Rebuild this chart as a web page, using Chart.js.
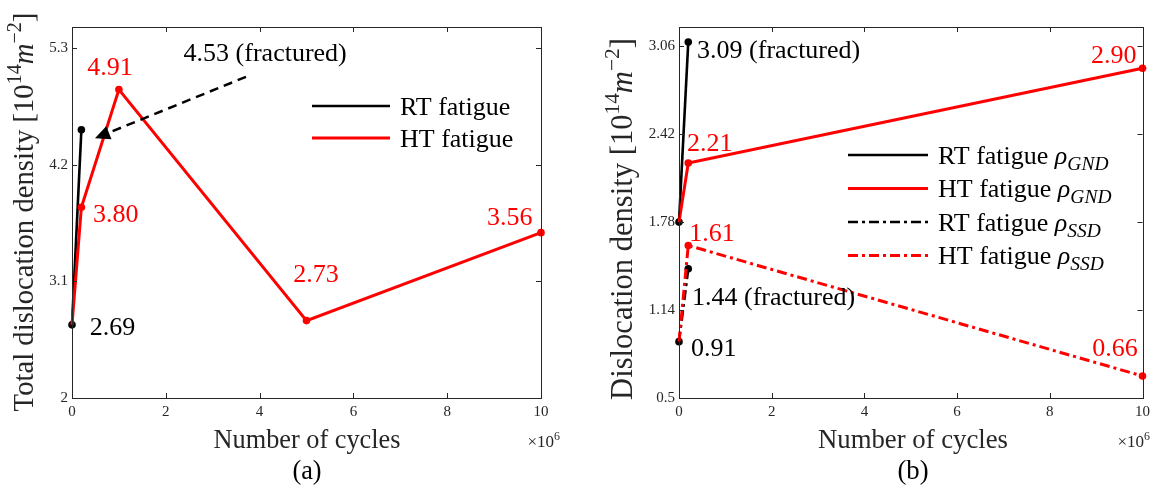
<!DOCTYPE html>
<html>
<head>
<meta charset="utf-8">
<script src="https://cdn.jsdelivr.net/npm/chart.js@4.4.1/dist/chart.umd.min.js"></script>
<style>
  html, body { margin: 0; padding: 0; background: #fff; }
  #wrap { position: relative; width: 1155px; height: 485px; }
  .panel { position: absolute; top: 0; height: 485px; }
</style>
</head>
<body>
<div id="wrap">
  <div class="panel" style="left:0;width:580px"><canvas id="chartA" width="580" height="485"></canvas></div>
  <div class="panel" style="left:580px;width:575px"><canvas id="chartB" width="575" height="485"></canvas></div>
</div>
<script>
// Panel (a): total dislocation density, 10^14 m^-2
const cyclesA_RT = [0, 0.2];
const densA_RT = [2.69, 4.53];
const cyclesA_HT = [0, 0.2, 1, 5, 10];
const densA_HT = [2.69, 3.80, 4.91, 2.73, 3.56];
const yTicksA = [2, 3.1, 4.2, 5.3];

// Panel (b): GND / SSD dislocation density
const cyclesB_RT = [0, 0.2];
const gndB_RT = [1.78, 3.09];
const ssdB_RT = [0.91, 1.44];
const cyclesB_HT = [0, 0.2, 10];
const gndB_HT = [1.78, 2.21, 2.90];
const ssdB_HT = [0.91, 1.61, 0.66];
const yTicksB = [0.5, 1.14, 1.78, 2.42, 3.06];

// x axis: number of cycles (x 10^6)
const xTicks = [0, 2, 4, 6, 8, 10];

const AXIS = '#262626';
const RED = '#ff0000';
const BLACK = '#000000';
const SERIF = '"Liberation Serif", "Times New Roman", serif';
const TXT = 26; // size of value labels and legend text
Chart.defaults.font.family = SERIF;

const pts = (xs, ys) => xs.map((x, i) => ({ x: x, y: ys[i] }));

// rich text helpers (superscript / subscript / italic pieces)
function fnt(size, italic) { return (italic ? 'italic ' : '') + size + 'px ' + SERIF; }
function pieceSize(p, size) { return p.sup ? size * 0.7 : p.sub ? size * 0.75 : size; }
function measureRich(ctx, parts, size) {
  let w = 0;
  for (const p of parts) {
    ctx.font = fnt(pieceSize(p, size), p.it);
    w += ctx.measureText(p.t).width;
  }
  return w;
}
function drawRich(ctx, parts, x, y, size, align, color) {
  const w = measureRich(ctx, parts, size);
  let cx = align === 'left' ? x : align === 'right' ? x - w : x - w / 2;
  const base = y + size * 0.34;
  ctx.fillStyle = color;
  ctx.textAlign = 'left';
  ctx.textBaseline = 'alphabetic';
  for (const p of parts) {
    ctx.font = fnt(pieceSize(p, size), p.it);
    const dy = p.sup ? -size * 0.42 : p.sub ? size * 0.22 : 0;
    ctx.fillText(p.t, cx, base + dy);
    cx += ctx.measureText(p.t).width;
  }
}

const unitParts = [
  { t: '[10' }, { t: '14', sup: true }, { t: 'm', it: true }, { t: '\u22122', sup: true }, { t: ']' }
];
const rho = (sub) => [{ t: '\u03c1', it: true }, { t: sub, it: true, sub: true }];

// box, inward ticks, labels, legend, arrow
function panelPlugin(cfg) {
  return {
    id: 'panel' + cfg.tag,
    afterDatasetsDraw(chart) {
      const { ctx, chartArea: a, scales } = chart;
      const sx = scales.x, sy = scales.y;
      ctx.save();

      // axes box with ticks on all four sides
      ctx.strokeStyle = AXIS;
      ctx.lineWidth = 1;
      ctx.setLineDash([]);
      ctx.strokeRect(Math.round(a.left) + 0.5, Math.round(a.top) + 0.5,
        Math.round(a.right - a.left), Math.round(a.bottom - a.top));
      ctx.beginPath();
      xTicks.forEach(v => {
        const px = Math.round(sx.getPixelForValue(v)) + 0.5;
        ctx.moveTo(px, a.bottom); ctx.lineTo(px, a.bottom - 5);
        ctx.moveTo(px, a.top); ctx.lineTo(px, a.top + 5);
      });
      cfg.yTicks.forEach(v => {
        const py = Math.round(sy.getPixelForValue(v)) + 0.5;
        ctx.moveTo(a.left, py); ctx.lineTo(a.left + 5, py);
        ctx.moveTo(a.right, py); ctx.lineTo(a.right - 5, py);
      });
      ctx.stroke();

      // arrow annotation
      if (cfg.arrow) {
        const x0 = sx.getPixelForValue(cfg.arrow.from[0]), y0 = sy.getPixelForValue(cfg.arrow.from[1]);
        const x1 = sx.getPixelForValue(cfg.arrow.to[0]), y1 = sy.getPixelForValue(cfg.arrow.to[1]);
        const ang = Math.atan2(y1 - y0, x1 - x0);
        const head = 15;
        ctx.strokeStyle = BLACK;
        ctx.lineWidth = 2.5;
        ctx.setLineDash([9, 6]);
        ctx.beginPath();
        ctx.moveTo(x0, y0);
        ctx.lineTo(x1 - head * Math.cos(ang), y1 - head * Math.sin(ang));
        ctx.stroke();
        ctx.setLineDash([]);
        ctx.fillStyle = BLACK;
        ctx.beginPath();
        ctx.moveTo(x1, y1);
        ctx.lineTo(x1 - head * Math.cos(ang) + 7 * Math.sin(ang), y1 - head * Math.sin(ang) - 7 * Math.cos(ang));
        ctx.lineTo(x1 - head * Math.cos(ang) - 7 * Math.sin(ang), y1 - head * Math.sin(ang) + 7 * Math.cos(ang));
        ctx.closePath();
        ctx.fill();
      }

      // value labels
      cfg.notes.forEach(n => {
        const txt = n.v.toFixed(2) + (n.fractured ? ' (fractured)' : '');
        drawRich(ctx, [{ t: txt }], sx.getPixelForValue(n.x), sy.getPixelForValue(n.y), TXT, n.align, n.color);
      });

      // legend
      const lg = cfg.legend;
      lg.items.forEach((it, i) => {
        const ds = chart.data.datasets[it.ds];
        const yy = lg.y0 + i * lg.dy;
        ctx.strokeStyle = ds.borderColor;
        ctx.lineWidth = ds.borderWidth;
        ctx.setLineDash(ds.borderDash || []);
        ctx.beginPath();
        ctx.moveTo(lg.x0, yy); ctx.lineTo(lg.x1, yy);
        ctx.stroke();
        ctx.setLineDash([]);
        drawRich(ctx, it.parts, lg.x1 + 10, yy, TXT, 'left', BLACK);
      });
      ctx.restore();
    },
    afterDraw(chart) {
      const { ctx } = chart;
      ctx.save();
      // y title, rotated, fitted to its length
      const yt = cfg.yTitle;
      const ysz = 20 * yt.len / measureRich(ctx, yt.parts, 20);
      ctx.translate(yt.x, yt.cy);
      ctx.rotate(-Math.PI / 2);
      drawRich(ctx, yt.parts, 0, -ysz * 0.34, ysz, 'center', AXIS);
      ctx.restore();
      ctx.save();
      const xt = cfg.xTitle;
      const tparts = [{ t: 'Number of cycles' }];
      const xsz = 20 * xt.len / measureRich(ctx, tparts, 20);
      drawRich(ctx, tparts, xt.cx, xt.cy, xsz, 'center', AXIS);
      drawRich(ctx, [{ t: cfg.tag }], xt.cx, 470, xsz, 'center', BLACK);
      drawRich(ctx, [{ t: '\u00d710' }, { t: '6', sup: true }], xt.expX, xt.cy + 2, 17, 'right', AXIS);
      ctx.restore();
    }
  };
}

function scalesFor(yMin, yMax, yTicks, yWidth) {
  const tickFont = { family: SERIF, size: 15 };
  return {
    x: {
      type: 'linear', min: 0, max: 10,
      afterBuildTicks: s => { s.ticks = xTicks.map(v => ({ value: v })); },
      afterFit: s => { s.height = 87; },
      grid: { display: false, drawTicks: false },
      border: { display: false },
      ticks: { color: AXIS, font: tickFont, padding: 5, maxRotation: 0, autoSkip: false }
    },
    y: {
      type: 'linear', min: yMin, max: yMax,
      afterBuildTicks: s => { s.ticks = yTicks.map(v => ({ value: v })); },
      afterFit: s => { s.width = yWidth; },
      grid: { display: false, drawTicks: false },
      border: { display: false },
      ticks: { color: AXIS, font: tickFont, padding: 4, autoSkip: false, callback: v => String(v) }
    }
  };
}

function lineSet(label, data, color, width, dash, hideFirst) {
  return {
    label: label,
    data: data,
    borderColor: color,
    backgroundColor: color,
    borderWidth: width,
    borderDash: dash || [],
    pointRadius: ctx => (hideFirst && ctx.dataIndex === 0) ? 0 : 3.8,
    pointHoverRadius: 0,
    pointBackgroundColor: color,
    pointBorderWidth: 0,
    showLine: true,
    tension: 0,
    clip: false
  };
}

const commonOpts = {
  responsive: false,
  animation: false,
  events: [],
  plugins: { legend: { display: false }, tooltip: { enabled: false } }
};

// panel (a)
new Chart(document.getElementById('chartA'), {
  type: 'scatter',
  data: {
    datasets: [
      lineSet('HT fatigue', pts(cyclesA_HT, densA_HT), RED, 3, null, true),
      lineSet('RT fatigue', pts(cyclesA_RT, densA_RT), BLACK, 2.6)
    ]
  },
  options: Object.assign({}, commonOpts, {
    layout: { padding: { left: 0, right: 39, top: 27, bottom: 0 } },
    scales: scalesFor(2, 5.5, yTicksA, 72)
  }),
  plugins: [panelPlugin({
    tag: '(a)',
    yTicks: yTicksA,
    arrow: { from: [3.71, 5.03], to: [0.49, 4.45] },
    notes: [
      { v: densA_RT[1], fractured: true, x: 2.38, y: 5.26, align: 'left', color: BLACK },
      { v: densA_HT[2], x: 0.81, y: 5.13, align: 'center', color: RED },
      { v: densA_HT[1], x: 0.45, y: 3.74, align: 'left', color: RED },
      { v: densA_RT[0], x: 0.38, y: 2.68, align: 'left', color: BLACK },
      { v: densA_HT[3], x: 5.2, y: 3.18, align: 'center', color: RED },
      { v: densA_HT[4], x: 9.82, y: 3.72, align: 'right', color: RED }
    ],
    legend: {
      x0: 312, x1: 390, y0: 106, dy: 32,
      items: [
        { ds: 1, parts: [{ t: 'RT fatigue' }] },
        { ds: 0, parts: [{ t: 'HT fatigue' }] }
      ]
    },
    yTitle: { x: 33, cy: 212, len: 399, parts: [{ t: 'Total dislocation density ' }].concat(unitParts) },
    xTitle: { cx: 307, cy: 439, len: 187, expX: 560 }
  })]
});

// panel (b)
new Chart(document.getElementById('chartB'), {
  type: 'scatter',
  data: {
    datasets: [
      lineSet('HT fatigue GND', pts(cyclesB_HT, gndB_HT), RED, 3, null, true),
      lineSet('HT fatigue SSD', pts(cyclesB_HT, ssdB_HT), RED, 3, [10, 4, 3, 4], true),
      lineSet('RT fatigue GND', pts(cyclesB_RT, gndB_RT), BLACK, 2.6),
      lineSet('RT fatigue SSD', pts(cyclesB_RT, ssdB_RT), BLACK, 2.6, [10, 4, 3, 4])
    ]
  },
  options: Object.assign({}, commonOpts, {
    layout: { padding: { left: 0, right: 12, top: 27, bottom: 0 } },
    scales: scalesFor(0.5, 3.2, yTicksB, 99)
  }),
  plugins: [panelPlugin({
    tag: '(b)',
    yTicks: yTicksB,
    notes: [
      { v: gndB_RT[1], fractured: true, x: 0.39, y: 3.04, align: 'left', color: BLACK },
      { v: gndB_HT[2], x: 9.87, y: 3.0, align: 'right', color: RED },
      { v: gndB_HT[1], x: 0.17, y: 2.36, align: 'left', color: RED },
      { v: ssdB_HT[1], x: 0.22, y: 1.71, align: 'left', color: RED },
      { v: ssdB_RT[1], fractured: true, x: 0.28, y: 1.24, align: 'left', color: BLACK },
      { v: ssdB_RT[0], x: 0.26, y: 0.87, align: 'left', color: BLACK },
      { v: ssdB_HT[2], x: 9.9, y: 0.87, align: 'right', color: RED }
    ],
    legend: {
      x0: 268, x1: 348, y0: 155, dy: 33.5,
      items: [
        { ds: 2, parts: [{ t: 'RT fatigue ' }].concat(rho('GND')) },
        { ds: 0, parts: [{ t: 'HT fatigue ' }].concat(rho('GND')) },
        { ds: 3, parts: [{ t: 'RT fatigue ' }].concat(rho('SSD')) },
        { ds: 1, parts: [{ t: 'HT fatigue ' }].concat(rho('SSD')) }
      ]
    },
    yTitle: { x: 52, cy: 219, len: 362, parts: [{ t: 'Dislocation density ' }].concat(unitParts) },
    xTitle: { cx: 333, cy: 439, len: 190, expX: 570 }
  })]
});
</script>
</body>
</html>
